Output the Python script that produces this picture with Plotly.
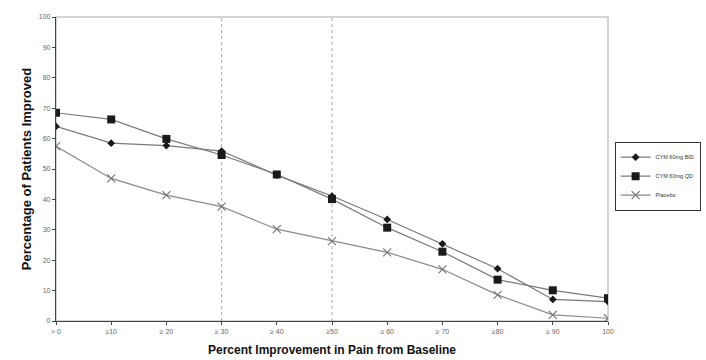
import plotly.graph_objects as go

categories = ["> 0", "≥10", "≥ 20", "≥ 30", "≥ 40", "≥50", "≥ 60", "≥ 70", "≥80", "≥ 90", "100"]
bid = [64, 58.5, 57.7, 55.9, 48, 41.1, 33.4, 25.4, 17.2, 7.1, 6.4]
qd = [68.5, 66.3, 59.9, 54.6, 48.2, 40.1, 30.7, 22.8, 13.6, 10.1, 7.5]
placebo = [57.5, 46.9, 41.4, 37.6, 30.2, 26.3, 22.6, 17.0, 8.6, 2.0, 0.9]
y_ticks = [0, 10, 20, 30, 40, 50, 60, 70, 80, 90, 100]
ref_lines = [3, 5]

xpos = list(range(len(categories)))
font = "Liberation Sans, Arial, sans-serif"

fig = go.Figure()
fig.add_trace(go.Scatter(x=xpos, y=bid, mode="lines+markers", name="CYM 60mg BID",
                         line=dict(color="#7a7a7a", width=1.2),
                         marker=dict(symbol="diamond", size=6, color="#1a1a1a")))
fig.add_trace(go.Scatter(x=xpos, y=qd, mode="lines+markers", name="CYM 60mg QD",
                         line=dict(color="#7a7a7a", width=1.2),
                         marker=dict(symbol="square", size=8, color="#1a1a1a")))
fig.add_trace(go.Scatter(x=xpos, y=placebo, mode="lines+markers", name="Placebo",
                         line=dict(color="#8a8a8a", width=1.2),
                         marker=dict(symbol="x-thin-open", size=8, color="#777777",
                                     line=dict(color="#777777", width=1.2))))

shapes = [dict(type="rect", xref="paper", yref="paper", x0=0, x1=1, y0=0, y1=1,
               line=dict(color="#c8c8c8", width=1.5), layer="below")]
for xv in ref_lines:
    shapes.append(dict(type="line", xref="x", yref="paper", x0=xv, x1=xv, y0=0, y1=1,
                       line=dict(color="#aaaaaa", width=1, dash="dot"), layer="below"))

fig.update_layout(
    width=706, height=360,
    margin=dict(l=56, r=98, t=17, b=39, autoexpand=False),
    paper_bgcolor="white", plot_bgcolor="white",
    font=dict(family=font, color="#000"),
    shapes=shapes,
    showlegend=True,
    legend=dict(x=1.012, y=0.59, xanchor="left", yanchor="top",
                bordercolor="#333", borderwidth=1, bgcolor="white",
                font=dict(size=5.5, color="#333", family=font),
                tracegroupgap=0, itemwidth=30),
    xaxis=dict(range=[0, 10], tickmode="array", tickvals=xpos, ticktext=categories,
               showgrid=False, zeroline=False, showline=True, linecolor="#444", linewidth=1.2,
               ticks="outside", ticklen=3, tickcolor="#444",
               tickfont=dict(size=7, color="#666"),
               title=dict(text="<b>Percent Improvement in Pain from Baseline</b>",
                          font=dict(size=12, color="#111"), standoff=12)),
    yaxis=dict(range=[0, 100], tickmode="array", tickvals=y_ticks,
               showgrid=False, zeroline=False, showline=True, linecolor="#444", linewidth=1.2,
               ticks="outside", ticklen=3, tickcolor="#444",
               tickfont=dict(size=7, color="#666"),
               title=dict(text="<b>Percentage of Patients Improved</b>",
                          font=dict(size=13, color="#111"), standoff=4)),
)

fig.write_html("out.html")
